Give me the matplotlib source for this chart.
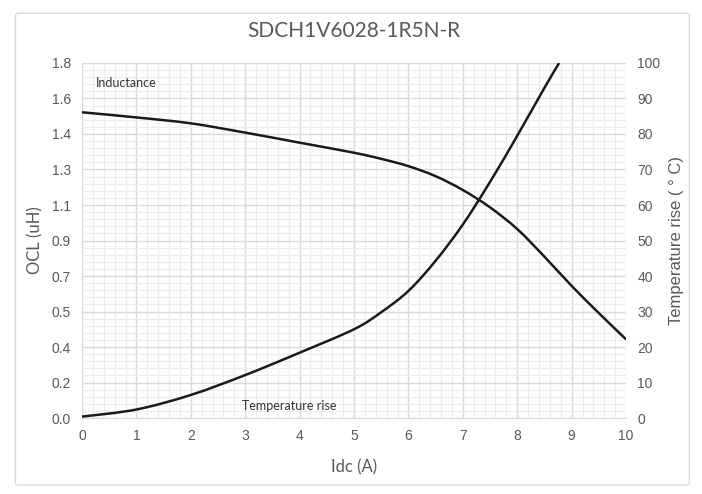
import matplotlib.pyplot as plt
import matplotlib.patches as patches
from matplotlib.path import Path
from matplotlib.ticker import MultipleLocator, FixedLocator

# valeurs
idc_l = [0, 1, 2, 3, 4, 5, 5.5, 6, 6.5, 7, 7.5, 8, 8.5, 9, 9.5, 10]
ocl = [1.550, 1.524, 1.494, 1.447, 1.396, 1.345, 1.314, 1.277, 1.226, 1.156,
       1.068, 0.958, 0.818, 0.670, 0.532, 0.399]

idc_t = [0, 1, 2, 3, 4, 5, 5.5, 6, 6.5, 7, 7.5, 8, 8.5, 8.77]
temp = [0.4, 2.4, 6.5, 12.1, 18.4, 25.0, 29.8, 35.8, 44.3, 54.5, 66.5, 79.5,
        93.0, 100.0]

left_ticks = [0, 0.18, 0.36, 0.54, 0.72, 0.9, 1.08, 1.26, 1.44, 1.62, 1.8]
left_labels = ['0.0', '0.2', '0.4', '0.5', '0.7', '0.9', '1.1', '1.3', '1.4', '1.6', '1.8']

gris = '#595959'


def courbe_lissee(xs, ys):
    # ligne lissee facon Excel (bezier, tension 1/6)
    pts = list(zip(xs, ys))
    n = len(pts)
    verts = [pts[0]]
    codes = [Path.MOVETO]
    for i in range(n - 1):
        p0 = pts[max(i - 1, 0)]
        p1 = pts[i]
        p2 = pts[i + 1]
        p3 = pts[min(i + 2, n - 1)]
        c1 = (p1[0] + (p2[0] - p0[0]) / 6, p1[1] + (p2[1] - p0[1]) / 6)
        c2 = (p2[0] - (p3[0] - p1[0]) / 6, p2[1] - (p3[1] - p1[1]) / 6)
        verts += [c1, c2, p2]
        codes += [Path.CURVE4] * 3
    return Path(verts, codes)


fig = plt.figure(figsize=(7.02, 4.94), dpi=100)
# cadre du graphique
fig.patches.append(patches.FancyBboxPatch((0.022, 0.018), 0.96, 0.955,
                                          boxstyle='round,pad=0,rounding_size=0.005',
                                          transform=fig.transFigure, fc='none',
                                          ec='#d9d9d9', lw=1.0, zorder=-1))
ax = fig.add_axes([0.1168, 0.1538, 0.775, 0.7187])
ax2 = ax.twinx()

ax.set_xlim(0, 10)
ax.set_ylim(0, 1.8)
ax2.set_ylim(0, 100)
ax.xaxis.set_major_locator(MultipleLocator(1))
ax.xaxis.set_minor_locator(MultipleLocator(0.2))
ax.yaxis.set_major_locator(FixedLocator(left_ticks))
ax.yaxis.set_minor_locator(FixedLocator([i * 0.036 for i in range(51)]))
ax.set_yticklabels(left_labels)
ax2.yaxis.set_major_locator(MultipleLocator(10))

ax.grid(which='minor', color='#ececec', lw=0.8)
ax.grid(which='major', color='#d9d9d9', lw=1.0)
ax.set_axisbelow(True)

ax.add_patch(patches.PathPatch(courbe_lissee(idc_l, ocl), fc='none', ec='#1a1a1a',
                               lw=1.8, transform=ax.transData, zorder=5))
ax2.add_patch(patches.PathPatch(courbe_lissee(idc_t, temp), fc='none', ec='#1a1a1a',
                                lw=1.8, transform=ax2.transData, zorder=5))

for a in (ax, ax2):
    for s in a.spines.values():
        s.set_visible(False)
    a.tick_params(which='both', length=0, colors=gris, labelsize=10)
ax.spines['bottom'].set_visible(True)
ax.spines['bottom'].set_color('#d9d9d9')
ax.tick_params(axis='y', pad=8)
ax.tick_params(axis='x', pad=8)
ax2.tick_params(axis='y', pad=8)
for lab in ax.get_xticklabels() + ax.get_yticklabels() + ax2.get_yticklabels():
    lab.set_family('Liberation Sans')

ax.set_xlabel('Idc (A)', color=gris, fontsize=12, family='Lato', labelpad=12)
ax.set_ylabel('OCL (uH)', color=gris, fontsize=12, family='Lato', labelpad=6)
ax2.set_ylabel('Temperature rise ( ° C)', color=gris, fontsize=12, family='Liberation Sans', labelpad=6)
ax.set_title('SDCH1V6028-1R5N-R', color=gris, fontsize=15, family='Lato', pad=19)

ax.text(0.25, 1.7, 'Inductance', fontsize=9, color='#333333', family='Lato', va='center', zorder=6)
ax2.text(2.95, 3.4, 'Temperature rise', fontsize=9, color='#333333', family='Lato', va='center', zorder=6)

fig.savefig('out.png', dpi=100)
